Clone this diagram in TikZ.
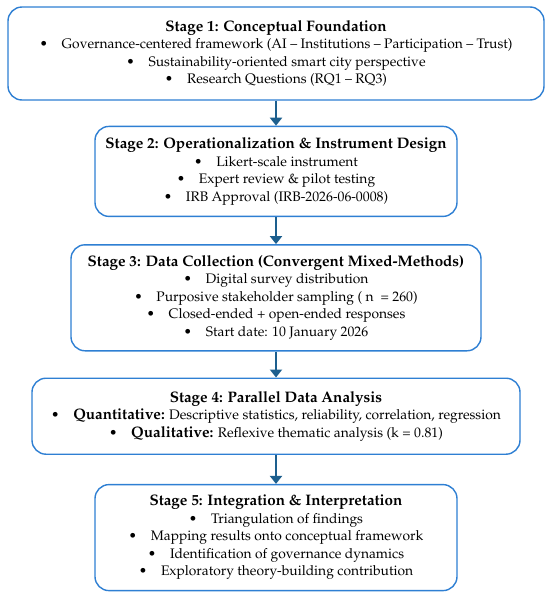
\documentclass[tikz,border=0pt]{standalone}
\usepackage[T1]{fontenc}
\usepackage{mathpazo}
\usepackage[dvipsnames]{xcolor}
\usepackage{tikz}
\usetikzlibrary{arrows.meta, positioning}

\definecolor{boxblue}{HTML}{2E7FD3}
\definecolor{arrowblue}{HTML}{1D5F8E}
\newcommand{\heavy}[1]{{\fontsize{15.2}{17.5}\selectfont\bfseries #1}}

\begin{document}
\begin{tikzpicture}[
                x=1pt, y=1pt,
                font=\fontsize{13.8}{17.5}\selectfont,
                stagebox/.style={rectangle, draw=boxblue, line width=1.4pt, rounded corners=14pt, align=center, fill=white, inner sep=2pt},
                arrow/.style={draw=arrowblue, line width=2.6pt, -{Triangle[width=12pt, length=8pt]}, arrowblue}
            ]
            \useasboundingbox (0,0) rectangle (550,-592);
            \node (found) [stagebox, minimum width=536pt, minimum height=93pt] at (276,-53.5)
                {\heavy{Stage 1: Conceptual Foundation}\\
                 \textbullet\quad Governance-centered framework (AI -- Institutions -- Participation -- Trust)\\
                 \textbullet\quad Sustainability-oriented smart city perspective\\
                 \textbullet\quad Research Questions (RQ1 -- RQ3)};
            \node (oper) [stagebox, minimum width=362pt, minimum height=90pt, below=25pt of found]
                {\heavy{Stage 2: Operationalization \& Instrument Design}\\
                 \textbullet\quad Likert-scale instrument\\
                 \textbullet\quad Expert review \& pilot testing\\
                 \textbullet\quad IRB Approval (IRB-2026-06-0008)};
            \node (collect) [stagebox, minimum width=410pt, minimum height=106pt, below=27pt of oper]
                {\heavy{Stage 3: Data Collection (Convergent Mixed-Methods)}\\
                 \textbullet\quad Digital survey distribution\\
                 \textbullet\quad Purposive stakeholder sampling (~n~~= 260)\\
                 \textbullet\quad Closed-ended + open-ended responses\\
                 \textbullet\quad Start date: 10 January 2026};
            \node (analysis) [stagebox, minimum width=488pt, minimum height=76pt, below=26pt of collect]
                {\heavy{Stage 4: Parallel Data Analysis}\\
                 \textbullet\quad \heavy{Quantitative:} Descriptive statistics, reliability, correlation, regression\\
                 \textbullet\quad \heavy{Qualitative:} Reflexive thematic analysis (k = 0.81)};
            \node (integ) [stagebox, minimum width=362pt, minimum height=106pt, below=29pt of analysis]
                {\heavy{Stage 5: Integration \& Interpretation}\\
                 \textbullet\quad Triangulation of findings\\
                 \textbullet\quad Mapping results onto conceptual framework\\
                 \textbullet\quad Identification of governance dynamics\\
                 \textbullet\quad Exploratory theory-building contribution};

            \draw [arrow] (found) -- (oper);
            \draw [arrow] (oper) -- (collect);
            \draw [arrow] (collect) -- (analysis);
            \draw [arrow] (analysis) -- (integ);
            \end{tikzpicture}
\end{document}
